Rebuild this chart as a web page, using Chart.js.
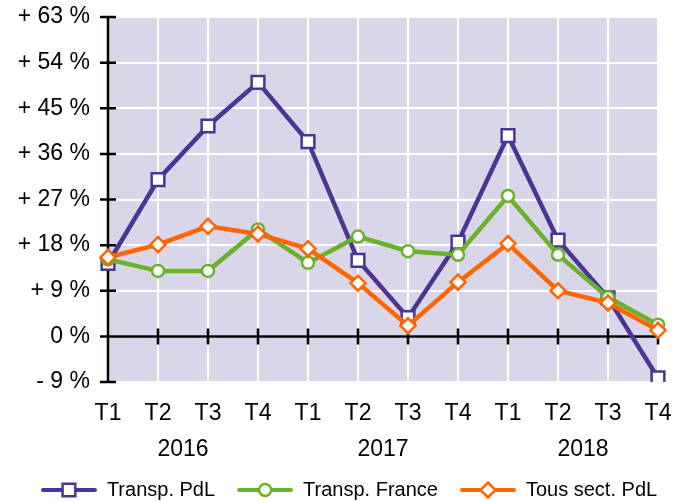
<!DOCTYPE html>
<html>
<head>
<meta charset="utf-8">
<script src="https://cdn.jsdelivr.net/npm/chart.js@4"></script>
<style>
  html, body { margin: 0; padding: 0; background: #fff; overflow: hidden; }
  #wrap { width: 686px; height: 510px; position: relative; }
</style>
</head>
<body>
<div id="wrap"><canvas id="myChart"></canvas></div>
<script>
const quarters = ["T1", "T2", "T3", "T4", "T1", "T2", "T3", "T4", "T1", "T2", "T3", "T4"];
const years = ["2016", "2017", "2018"];
const transpPdl = [14.4, 30.9, 41.5, 50.1, 38.4, 15.0, 3.7, 18.6, 39.6, 19.0, 7.6, -8.2];
const transpFrance = [15.2, 12.9, 12.9, 21.1, 14.5, 19.7, 16.8, 16.1, 27.7, 16.1, 7.7, 2.3];
const tousSectPdl = [15.6, 18.1, 21.7, 20.2, 17.3, 10.5, 2.1, 10.7, 18.3, 9.0, 6.6, 1.2];
const seriesNames = ["Transp. PdL", "Transp. France", "Tous sect. PdL"];

const PURPLE = "#4b3592";
const GREEN = "#69b22c";
const ORANGE = "#ff6600";
const FONT = "'Liberation Sans', Arial, sans-serif";

// petit symbole de légende : trait + marqueur
const legendSymbol = (color, style, radius) => {
  const c = document.createElement("canvas");
  c.width = 68;
  c.height = 22;
  const g = c.getContext("2d");
  g.strokeStyle = color;
  g.lineWidth = 4;
  g.lineCap = "round";
  g.beginPath();
  g.moveTo(14, 11);
  g.lineTo(66, 11);
  g.stroke();
  g.fillStyle = "#fff";
  g.lineWidth = 2.5;
  g.beginPath();
  const cx = 40, cy = 11;
  if (style === "rect") {
    const s = radius * Math.SQRT1_2;
    g.rect(cx - s, cy - s, 2 * s, 2 * s);
  } else if (style === "circle") {
    g.arc(cx, cy, radius, 0, Math.PI * 2);
  } else {
    g.moveTo(cx, cy - radius);
    g.lineTo(cx + radius, cy);
    g.lineTo(cx, cy + radius);
    g.lineTo(cx - radius, cy);
    g.closePath();
  }
  g.fill();
  g.stroke();
  return c;
};

const symbols = [
  legendSymbol(PURPLE, "rect", 9),
  legendSymbol(GREEN, "circle", 6),
  legendSymbol(ORANGE, "rectRot", 7.5),
];

const plotDecor = {
  id: "plotDecor",
  beforeDraw(chart) {
    const { ctx, chartArea: a } = chart;
    ctx.save();
    ctx.fillStyle = "#d9d6e9";
    ctx.fillRect(a.left, a.top, a.right - a.left, a.bottom - a.top);
    ctx.restore();
  },
  beforeDatasetsDraw(chart) {
    const { ctx, chartArea: a, scales } = chart;
    const x = scales.x, y = scales.y;
    const y0 = y.getPixelForValue(0);
    ctx.save();
    ctx.strokeStyle = "#000";
    ctx.lineWidth = 2.5;
    ctx.beginPath();
    ctx.moveTo(a.left, a.top);
    ctx.lineTo(a.left, a.bottom);
    y.ticks.forEach((t) => {
      const py = y.getPixelForValue(t.value);
      ctx.moveTo(a.left - 8, py);
      ctx.lineTo(a.left + 8, py);
    });
    ctx.moveTo(a.left - 8, y0);
    ctx.lineTo(a.right + 1, y0);
    quarters.forEach((q, i) => {
      const px = x.getPixelForValue(i);
      ctx.moveTo(px, y0 - 8);
      ctx.lineTo(px, y0 + 8);
    });
    ctx.stroke();
    ctx.restore();
  },
  afterDraw(chart) {
    const { ctx, chartArea: a, scales } = chart;
    ctx.save();
    ctx.fillStyle = "#000";
    ctx.font = "23px " + FONT;
    ctx.textAlign = "center";
    ctx.textBaseline = "middle";
    years.forEach((yr, g) => {
      const px = (scales.x.getPixelForValue(4 * g + 1) + scales.x.getPixelForValue(4 * g + 2)) / 2;
      ctx.fillText(yr, px, a.bottom + 68);
    });
    ctx.restore();
  },
};

const ctx = document.getElementById("myChart").getContext("2d");
new Chart(ctx, {
  type: "line",
  data: {
    labels: quarters,
    datasets: [
      {
        label: seriesNames[0],
        data: transpPdl,
        borderColor: PURPLE,
        backgroundColor: "#fff",
        borderWidth: 4.5,
        pointStyle: "rect",
        pointRadius: 9,
        pointBorderWidth: 2.5,
        tension: 0,
        order: 2,
      },
      {
        label: seriesNames[1],
        data: transpFrance,
        borderColor: GREEN,
        backgroundColor: "#fff",
        borderWidth: 4.5,
        pointStyle: "circle",
        pointRadius: 6,
        pointBorderWidth: 2.5,
        tension: 0,
        order: 1,
      },
      {
        label: seriesNames[2],
        data: tousSectPdl,
        borderColor: ORANGE,
        backgroundColor: "#fff",
        borderWidth: 4.5,
        pointStyle: "rectRot",
        pointRadius: 7.5,
        pointBorderWidth: 2.5,
        tension: 0,
        order: 0,
      },
    ],
  },
  options: {
    responsive: true,
    maintainAspectRatio: false,
    animation: false,
    layout: { padding: { top: 17, left: 0, right: 0, bottom: 0 } },
    scales: {
      x: {
        offset: false,
        border: { display: false },
        grid: { color: "#fff", lineWidth: 2, drawTicks: true, tickLength: 18, tickColor: "rgba(0,0,0,0)" },
        ticks: {
          color: "#000",
          font: { family: FONT, size: 23 },
          padding: 0,
          autoSkip: false,
          maxRotation: 0,
        },
        afterFit: (scale) => {
          scale.height = 88;
        },
      },
      y: {
        min: -9,
        max: 63,
        border: { display: false },
        grid: { color: "#fff", lineWidth: 2, drawTicks: true, tickLength: 18, tickColor: "rgba(0,0,0,0)" },
        ticks: {
          stepSize: 9,
          color: "#000",
          font: { family: FONT, size: 23 },
          padding: 0,
          callback: (v) => (v === 0 ? "0 %" : (v > 0 ? "+ " : "- ") + Math.abs(v) + " %"),
        },
        afterFit: (scale) => {
          scale.width = 108;
        },
      },
      // axe vide à droite, pour la marge
      yRight: {
        position: "right",
        min: -9,
        max: 63,
        border: { display: false },
        grid: { display: false, drawTicks: false },
        ticks: { display: false },
        afterFit: (scale) => {
          scale.width = 28;
        },
      },
    },
    plugins: {
      tooltip: { enabled: false },
      legend: {
        position: "bottom",
        labels: {
          usePointStyle: true,
          pointStyleWidth: 68,
          padding: 10,
          color: "#000",
          font: { family: FONT, size: 20 },
          sort: (a, b) => a.datasetIndex - b.datasetIndex,
          generateLabels: (chart) =>
            Chart.defaults.plugins.legend.labels.generateLabels(chart).map((l) => {
              l.pointStyle = symbols[l.datasetIndex];
              return l;
            }),
        },
      },
    },
  },
  plugins: [plotDecor],
});
</script>
</body>
</html>
